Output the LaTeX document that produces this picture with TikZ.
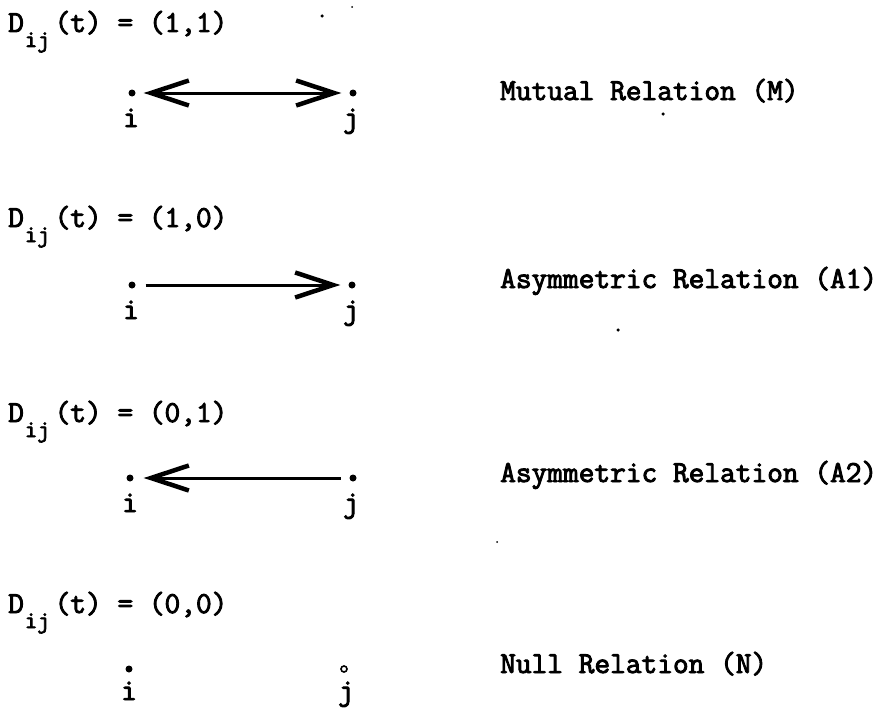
\documentclass[tikz,border=0pt]{standalone}
\usepackage{fontspec}
\usetikzlibrary{arrows.meta}
\newfontfamily\tw{Latin Modern Mono}[FakeBold=3]
\newcommand{\subij}{\hspace{1pt}\raisebox{-15pt}{\fontsize{24}{24}\selectfont ij}\hspace{5pt}}
\tikzset{
  txt/.style={anchor=base west, inner sep=0pt, font=\tw\fontsize{30.5}{31}\selectfont},
  lbl/.style={anchor=base, inner sep=0pt, font=\tw\fontsize{30.5}{31}\selectfont},
  pt/.style={circle, fill=black, inner sep=0pt, minimum size=7pt},
  ring/.style={circle, draw=black, line width=1.6pt, inner sep=0pt, minimum size=6pt},
  speck/.style={circle, fill=black, inner sep=0pt, minimum size=3.5pt},
  chev/.tip={Straight Barb[length=38pt,width=25pt,line width=4.5pt]},
  rel/.style={line width=3pt, shorten <=8pt, shorten >=8pt},
}
\begin{document}
\begin{tikzpicture}[x=1pt,y=-1pt]
\useasboundingbox (0,0) rectangle (886,709);
% row 1
\node[txt] (d1) at (8,32) {D\subij(t) = (1,1)};
\node[pt] (i1) at (132,93) {};
\node[pt] (j1) at (353,93) {};
\node[lbl] (li1) at (131,127) {i};
\node[lbl] (lj1) at (351,127) {j};
\draw[rel,{chev}-{chev}] (i1) -- (j1);
\node[txt] (t1) at (500,100) {Mutual Relation (M)};
% row 2
\node[txt] (d2) at (8,227) {D\subij(t) = (1,0)};
\node[pt] (i2) at (132,285) {};
\node[pt] (j2) at (352,285) {};
\node[lbl] (li2) at (131,319) {i};
\node[lbl] (lj2) at (351,319) {j};
\draw[rel,shorten <=10pt,-{chev}] (i2) -- (j2);
\node[txt] (t2) at (500,288) {Asymmetric Relation (A1)};
% row 3
\node[txt] (d3) at (8,422) {D\subij(t) = (0,1)};
\node[pt] (i3) at (130,478) {};
\node[pt] (j3) at (353,478) {};
\node[lbl] (li3) at (130,512) {i};
\node[lbl] (lj3) at (351,512) {j};
\draw[rel,shorten <=10pt,shorten >=8pt,{chev}-] (i3) -- (j3);
\node[txt] (t3) at (500,482) {Asymmetric Relation (A2)};
% row 4
\node[txt] (d4) at (8,613) {D\subij(t) = (0,0)};
\node[pt] (i4) at (129,669) {};
\node[ring] (j4) at (344,669) {};
\node[lbl] (li4) at (129,700) {i};
\node[lbl] (lj4) at (346,700) {j};
\node[txt] (t4) at (500,673) {Null Relation (N)};
% specks
\node[speck] (s1) at (322,16) {};
\node[speck,minimum size=2pt] (s2) at (352,7) {};
\node[speck] (s3) at (663,114) {};
\node[speck] (s4) at (618,330) {};
\node[speck,minimum size=2pt] (s5) at (497,542) {};
\end{tikzpicture}
\end{document}
